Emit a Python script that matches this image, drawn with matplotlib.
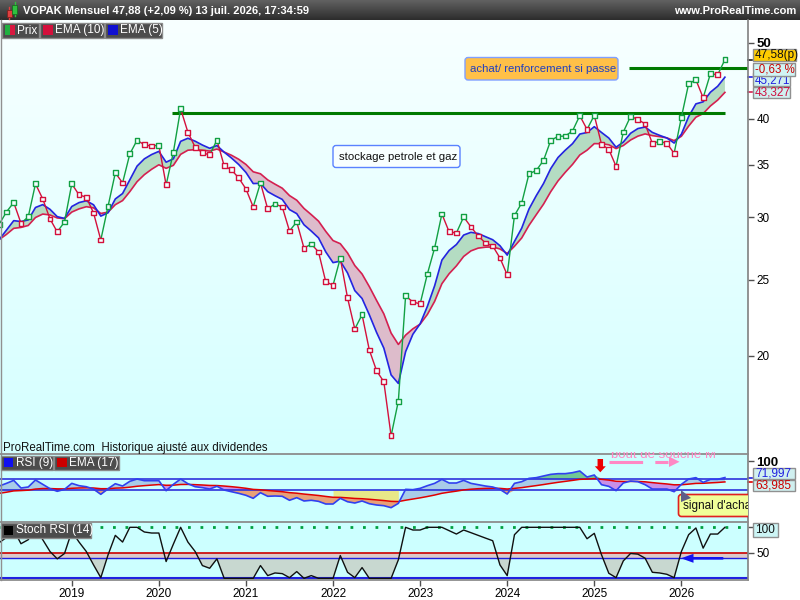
import numpy as np
import pandas as pd
import matplotlib
matplotlib.use('Agg')
import matplotlib.pyplot as plt
import matplotlib.ticker as mticker
from matplotlib.patches import Rectangle, FancyBboxPatch, Polygon, FancyArrow
from matplotlib.colors import LinearSegmentedColormap
from matplotlib.transforms import Bbox

plt.rcParams['font.family'] = ['Liberation Sans', 'DejaVu Sans']

# ---------------- data ----------------
months = pd.period_range('2018-03', '2026-07', freq='M')
close = [
    29.39, 30.47, 31.32, 29.48, 30.03, 33.08, 31.65, 29.85, 28.74, 29.59,
    33.08, 32.03, 31.81, 30.38, 28.07, 30.98, 34.16, 33.17, 36.11, 37.59, 37.08, 36.95,
    37.05, 32.98, 36.29, 41.20, 38.48, 36.83, 36.22, 36.01, 37.59, 34.87, 34.46, 33.66,
    32.59, 30.92, 33.17, 30.74, 31.19, 30.92, 28.82, 29.59, 27.40, 27.74, 27.10, 24.83,
    24.59, 26.61, 23.69, 21.63, 22.55, 20.34, 19.14, 18.53, 15.82, 17.51, 23.83, 23.41,
    23.28, 25.41, 27.42, 30.29, 28.74, 28.65, 30.03, 29.16, 28.40, 27.82, 27.58, 26.63,
    25.34, 30.15, 31.28, 34.06, 34.40, 35.42, 37.57, 38.01, 38.05, 38.62, 40.39, 38.80,
    40.42, 37.13, 36.59, 34.82, 38.50, 40.31, 39.95, 39.42, 37.24, 37.46, 37.24, 36.17,
    40.19, 44.34, 44.86, 42.56, 45.66, 45.53, 47.58]
rsi9 = [
    57.4, 62.0, 67.2, 54.0, 55.7, 67.8, 60.3, 52.8, 48.3, 51.7,
    62.0, 58.0, 56.2, 52.2, 43.1, 52.8, 61.4, 57.4, 65.5, 69.5, 66.6, 66.6,
    66.6, 49.3, 60.3, 69.5, 61.4, 56.2, 54.6, 52.2, 56.9, 50.5, 47.6, 44.8,
    41.4, 36.2, 45.9, 39.7, 40.2, 39.7, 32.8, 37.3, 31.6, 32.8, 31.0, 26.4,
    26.4, 36.2, 30.3, 28.1, 31.6, 26.9, 24.7, 23.5, 20.1, 27.5, 51.7, 51.1,
    53.4, 58.0, 62.0, 68.9, 62.6, 62.6, 67.2, 62.0, 59.7, 57.4, 55.7, 51.7,
    43.6, 62.0, 64.9, 70.6, 71.8, 74.7, 77.5, 78.7, 78.7, 80.4, 83.3, 72.9,
    76.4, 59.7, 56.8, 49.4, 62.6, 66.0, 64.9, 59.7, 52.2, 52.2, 52.2, 47.6,
    60.3, 69.5, 71.8, 63.7, 68.9, 68.9, 72.0]
stoch_rsi = [
    70, 80, 95, 67.8, 75.7, 100, 75.7, 52.6, 38.2, 48.7,
    92, 71.1, 52.6, 26.3, 1.3, 46, 84.2, 71.1, 100, 100, 90.8, 88.8,
    88.8, 32.9, 67.1, 100, 71.1, 52.6, 25, 19.7, 38.2, 0, 0, 0,
    0, 0, 25, 5.3, 10.5, 9.2, 1.3, 13.2, 0, 5.3, 0, 0,
    0, 44.7, 11.8, 1.3, 21, 0, 0, 0, 0, 36.2, 100, 94.7,
    94.7, 100, 100, 100, 93.4, 86.8, 94.7, 89.5, 84.2, 78.9, 73.7, 26.3,
    5.3, 85.5, 100, 100, 100, 100, 100, 100, 100, 100, 100, 77.6,
    88.2, 46, 9.9, 1.3, 34.2, 48.7, 47.4, 39.5, 11.8, 10.5, 7.9, 1.3,
    52.6, 85.5, 98.7, 59.2, 86.8, 86.8, 100]
ema5_first = 28.1
ema10_first = 28.1
rsi_ema17_first = 44.8
years = [2019, 2020, 2021, 2022, 2023, 2024, 2025, 2026]
price_ticks = [20, 25, 30, 35, 40, 50]
resistance_high = 46.5
resistance_low = 40.7
rsi_levels = [70, 50]

# ---------------- derived ----------------
x = np.array([(p.year - 2019) * 12 + p.month - 1 for p in months], dtype=float)
close = np.array(close)
rsi9 = np.array(rsi9)
stoch_rsi = np.array(stoch_rsi, dtype=float)


def ema(vals, n, first):
    a = 2.0 / (n + 1)
    out = [first]
    for v in vals[1:]:
        out.append(out[-1] + a * (v - out[-1]))
    return np.array(out)


ema5 = ema(close, 5, ema5_first)
ema10 = ema(close, 10, ema10_first)
rsi_ema = ema(rsi9, 17, rsi_ema17_first)

# ---------------- figure ----------------
W, H = 800, 600
fig = plt.figure(figsize=(8, 6), dpi=100, facecolor='white')


def frect(x0, y0, x1, y1):
    return [x0 / W, 1 - y1 / H, (x1 - x0) / W, (y1 - y0) / H]


XR = 748
P_TOP, P_BOT, R_BOT, S_BOT = 20, 454, 521.7, 580
xlim = (-9.89, 93.18)

axbg = fig.add_axes(frect(0, P_TOP, XR, P_BOT), zorder=0)
grad = np.linspace(0, 1, 256).reshape(-1, 1)
axbg.imshow(grad, aspect='auto', cmap=LinearSegmentedColormap.from_list('bg', ['#f8ffff', '#d4ffff']))
axbg.axis('off')

ax_p = fig.add_axes(frect(0, P_TOP, XR, P_BOT), zorder=1)
ax_p.patch.set_alpha(0)
ax_r = fig.add_axes(frect(0, P_BOT, XR, R_BOT), zorder=1, facecolor='#ccffff')
ax_s = fig.add_axes(frect(0, R_BOT, XR, S_BOT), zorder=1, facecolor='#ccffff')
for a in (ax_p, ax_r, ax_s):
    a.set_xlim(xlim)
    for sp in a.spines.values():
        sp.set_visible(False)
    a.tick_params(axis='x', bottom=False, labelbottom=False)
    a.tick_params(axis='y', left=False, labelleft=False, right=True, labelright=True,
                  direction='out', length=4, width=1, color='#505050', labelsize=8.5, pad=2)

# ---- price panel ----
GREEN = '#12a043'
RED = '#d4103c'
ax_p.set_yscale('log')
ax_p.set_ylim(15.0, 53.44)
ax_p.fill_between(x, ema5, ema10, where=ema5 >= ema10, interpolate=True, color='#b4dcc2', lw=0, zorder=1)
ax_p.fill_between(x, ema5, ema10, where=ema5 < ema10, interpolate=True, color='#ddbccb', lw=0, zorder=1)
ax_p.plot(x, ema10, color='#d42050', lw=1.2, zorder=2)
ax_p.plot(x, ema5, color='#2424e0', lw=1.2, zorder=2)
ax_p.hlines(resistance_low, 13.8, x[-1], color='#007a00', lw=2.2, zorder=3)
ax_p.hlines(resistance_high, 76.8, xlim[1], color='#007a00', lw=2.2, zorder=3)
up = np.concatenate([[True], close[1:] >= close[:-1]])
cols = np.where(up, GREEN, RED)
for i in range(1, len(x)):
    ax_p.plot(x[i - 1:i + 1], close[i - 1:i + 1], color=cols[i], lw=1, zorder=4)
ax_p.scatter(x, close, marker='s', s=12, facecolors='#f4ffff', edgecolors=cols, linewidths=1, zorder=5)
ax_p.set_yticks(price_ticks, labels=[str(t) for t in price_ticks])
ax_p.yaxis.set_minor_locator(mticker.NullLocator())
for lab in ax_p.get_yticklabels():
    if lab.get_text() == '50':
        lab.set_fontweight('bold')
        lab.set_fontsize(9.5)
ytr = ax_p.get_yaxis_transform()
ax_p.plot([1.0, 1.006], [close[-1]] * 2, transform=ytr, clip_on=False, color='#202020', lw=1.2)
ax_p.plot([1.0, 1.006], [ema5[-1]] * 2, transform=ytr, clip_on=False, color='#2424e0', lw=1.2)
ax_p.plot([1.0, 1.006], [ema10[-1]] * 2, transform=ytr, clip_on=False, color='#d42050', lw=1.2)

# ---- RSI panel ----
ax_r.set_ylim(-4.1, 112.6)
for lv in rsi_levels:
    ax_r.axhline(lv, color='#2020d8', lw=1.1, zorder=3)
upr = rsi9 >= rsi_ema
ax_r.fill_between(x, np.minimum(rsi_ema, 70), np.minimum(rsi9, 70), where=upr, interpolate=True, color='#a8cce8', lw=0, zorder=1)
ax_r.fill_between(x, np.maximum(rsi_ema, 70), np.maximum(rsi9, 70), where=upr, interpolate=True, color='#70c896', lw=0, zorder=1)
ax_r.fill_between(x, np.maximum(rsi9, 50), np.maximum(rsi_ema, 50), where=~upr, interpolate=True, color='#c890e8', lw=0, zorder=1)
ax_r.fill_between(x, np.minimum(rsi9, 50), np.minimum(rsi_ema, 50), where=~upr, interpolate=True, color='#e8a078', lw=0, zorder=1)
ax_r.fill_between(x, rsi_ema, 50, where=(rsi_ema < 39) & (rsi9 < rsi_ema), color='#e8e888', lw=0, zorder=1)
ax_r.plot(x, rsi_ema, color='#e00000', lw=1.1, zorder=4)
ax_r.plot(x, rsi9, color='#3040f0', lw=1.2, zorder=5)
ax_r.set_yticks([100], labels=['100'])
ax_r.get_yticklabels()[0].set_fontweight('bold')
ax_r.get_yticklabels()[0].set_fontsize(9.5)
rtr = ax_r.get_yaxis_transform()
ax_r.plot([1.0, 1.006], [rsi9[-1]] * 2, transform=rtr, clip_on=False, color='#2020e0', lw=1.2)
ax_r.plot([1.0, 1.006], [rsi_ema[-1]] * 2, transform=rtr, clip_on=False, color='#e00000', lw=1.2)

# ---- Stoch RSI panel ----
ax_s.set_ylim(-3.3, 111)
ax_s.fill_between(x, stoch_rsi, 50, where=stoch_rsi < 50, interpolate=True, color='#c8d8d0', lw=0, zorder=1)
ax_s.axhspan(40, 50, color='#dccaca', lw=0, zorder=2)
ax_s.axhline(100, color='#00a040', lw=2, linestyle=(0, (1, 3.5)), zorder=3)
ax_s.axhline(50, color='#cc0000', lw=1.2, zorder=3)
ax_s.axhline(40, color='#2020e0', lw=1, zorder=3)
ax_s.axhline(0, color='#2020e0', lw=1.5, zorder=3)
ax_s.plot(x, stoch_rsi, color='#101010', lw=1, zorder=5)
ax_s.set_yticks([100, 50], labels=['', '50'])
ax_s.tick_params(axis='x', bottom=True, labelbottom=True, direction='out', length=4, width=1,
                 color='#505050', labelsize=8.5, pad=2)
ax_s.set_xticks([(y - 2019) * 12 for y in years], labels=[str(y) for y in years])

# ---------------- overlay (pixel coords) ----------------
ov = fig.add_axes([0, 0, 1, 1], zorder=5)
ov.axis('off')
ov.imshow(grad, extent=(0, W, P_TOP, 0), aspect='auto',
          cmap=LinearSegmentedColormap.from_list('tb', ['#626262', '#2c2c2c']), zorder=0)


def box(x0, y0, x1, y1, fc, ec, lw=1.0, rnd=0.0, z=2, clip=None):
    if rnd:
        p = FancyBboxPatch((x0, y0), x1 - x0, y1 - y0, boxstyle=f'round,pad=0,rounding_size={rnd}',
                           fc=fc, ec=ec, lw=lw, zorder=z)
    else:
        p = Rectangle((x0, y0), x1 - x0, y1 - y0, fc=fc, ec=ec, lw=lw, zorder=z)
    ov.add_patch(p)
    if clip is not None:
        p.set_clip_box(clip)
    return p


def txt(xp, yp, s, clip=None, **kw):
    kw.setdefault('fontsize', 8)
    kw.setdefault('va', 'center')
    t = ov.text(xp, yp, s, zorder=kw.pop('z', 6), **kw)
    if clip is not None:
        t.set_clip_box(clip)
        t.set_clip_on(True)
    return t


# title bar
ov.plot([9, 9], [7, 19], color='#e04040', lw=1, zorder=3)
box(6.5, 10, 11.5, 17, '#e04040', '#802020', lw=0.6, z=3)
ov.plot([14.5, 14.5], [2, 16], color='#30c040', lw=1, zorder=3)
box(12, 4.5, 17, 14, '#30c040', '#1a7020', lw=0.6, z=3)
txt(23, 10.5, 'VOPAK Mensuel 47,88 (+2,09 %) 13 juil. 2026, 17:34:59', color='white', fontweight='bold')
txt(796, 10.5, 'www.ProRealTime.com', color='white', fontweight='bold', ha='right')

# separators
ov.plot([XR, XR], [P_TOP, S_BOT], color='#808080', lw=1.2, zorder=4)
ov.plot([0.5, 0.5], [P_TOP, S_BOT], color='#909090', lw=1, zorder=4)
for yy in (P_BOT, R_BOT, S_BOT):
    ov.plot([0, XR], [yy, yy], color='#8c8c8c', lw=1.3, zorder=4)

# legends
LG_FC, LG_EC = '#4c4c4c', '#8a8a8a'
box(1.5, 22.5, 38.5, 37.5, LG_FC, LG_EC, z=5)
box(5, 25, 10, 35, '#20b040', 'none', lw=0, z=6)
box(10, 25, 15, 35, '#d81840', 'none', lw=0, z=6)
txt(17, 30.5, 'Prix', color='white', fontsize=8.5)
box(39.5, 22.5, 104, 37.5, LG_FC, LG_EC, z=5)
box(43, 25, 53, 35, '#d4103c', 'none', lw=0, z=6)
txt(55, 30.5, 'EMA (10)', color='white', fontsize=8.5)
box(105, 22.5, 162, 37.5, LG_FC, LG_EC, z=5)
box(108, 25, 118, 35, '#1010d0', 'none', lw=0, z=6)
txt(120, 30.5, 'EMA (5)', color='white', fontsize=8.5)

box(1, 455.5, 53, 470, LG_FC, LG_EC, z=5)
box(4, 458, 13, 467, '#1010f0', 'none', lw=0, z=6)
txt(16, 463, 'RSI (9)', color='white', fontsize=8.5)
box(54, 455.5, 119, 470, LG_FC, LG_EC, z=5)
box(57, 458, 67, 467, '#cc0000', 'none', lw=0, z=6)
txt(69, 463, 'EMA (17)', color='white', fontsize=8.5)

box(1, 523, 91, 537.5, LG_FC, LG_EC, z=5)
box(4, 526, 13, 535, '#000000', 'none', lw=0, z=6)
txt(16, 530.5, 'Stoch RSI (14)', color='white', fontsize=8.5)

txt(3, 448, 'ProRealTime.com  Historique ajusté aux dividendes', color='#111111', fontsize=8.3)

# price annotations
box(465, 57.5, 618, 80, '#ffc048', '#80a0ff', lw=1, rnd=3, z=5)
txt(470, 69, 'achat/ renforcement si passe', color='#2040c0', fontsize=8.2)
box(333, 145.5, 460, 167.5, '#f8ffff', '#5a82ff', lw=1, rnd=3, z=5)
txt(339, 156.5, 'stockage petrole et gaz', color='#111111', fontsize=8.2)

# right-axis value boxes
box(753, 73, 790, 86, '#d0f0f0', '#909090', z=5)
txt(755, 80.3, '45,271', color='#2020e0', z=6, fontsize=8.3)
box(753, 63, 795, 76, '#d0f4f4', '#909090', z=7)
txt(755, 69.3, '-0,63 %', color='#cc0000', z=8, fontsize=8.3)
box(753, 48.5, 796, 61, '#ffcc00', '#909090', z=9)
txt(755, 55, '47,58(p)', color='#111111', z=10, fontsize=8.5)
box(753, 86.5, 790, 98, '#d0f0f0', '#909090', z=5)
txt(755, 92.3, '43,327', color='#d01040', z=6, fontsize=8.5)

box(752.5, 467.5, 795, 479, '#d0f0f0', '#909090', z=5)
txt(755, 473.3, '71,997', color='#2020e0', z=6, fontsize=8.5)
box(752.5, 479.5, 795, 490.5, '#d0f0f0', '#909090', z=5)
txt(755, 485, '63,985', color='#cc0000', z=6, fontsize=8.5)
box(753, 523, 778, 537, '#ccf5f5', '#909090', z=5)
txt(755, 530, '100', color='#111111', z=6, fontsize=8.5)

# RSI panel annotations
top_clip = Bbox.from_extents(0, H - S_BOT, XR, H - 452)
ov.add_patch(FancyArrow(600.3, 459, 0, 13.3, width=5.5, head_width=11, head_length=6,
                        length_includes_head=True, fc='#ee0000', ec='none', zorder=6))
ov.plot([609, 668], [461.8, 461.8], color='#ff88c4', lw=2.2, dashes=(11, 4), zorder=6)
ov.add_patch(Polygon([(669, 456.5), (669, 467), (679.5, 461.8)], closed=True, fc='#ff88c4', ec='none', zorder=6))
txt(611, 458.5, 'bout de souche M', color='#ff88c4', fontsize=9.5, va='baseline', clip=top_clip)

panel_clip = Bbox.from_extents(0, H - S_BOT, XR, H - P_BOT)
box(678.5, 494.5, 790, 516.5, '#f0ff98', '#e02020', lw=1.2, rnd=3, z=6, clip=panel_clip)
txt(683, 506, "signal d'achat", color='#111111', fontsize=8.5, clip=panel_clip, z=7)
ov.add_patch(Polygon([(681, 490), (681, 502), (691, 498)], closed=True, fc='#5e5e88', ec='none', zorder=8))

# Stoch arrow
ov.add_patch(FancyArrow(723.3, 558.3, -42.3, 0, width=2.6, head_width=9, head_length=12.5,
                        length_includes_head=True, fc='#1414f0', ec='none', zorder=6))

ov.set_xlim(0, W)
ov.set_ylim(H, 0)

fig.savefig('out.png', dpi=100, facecolor='white')
